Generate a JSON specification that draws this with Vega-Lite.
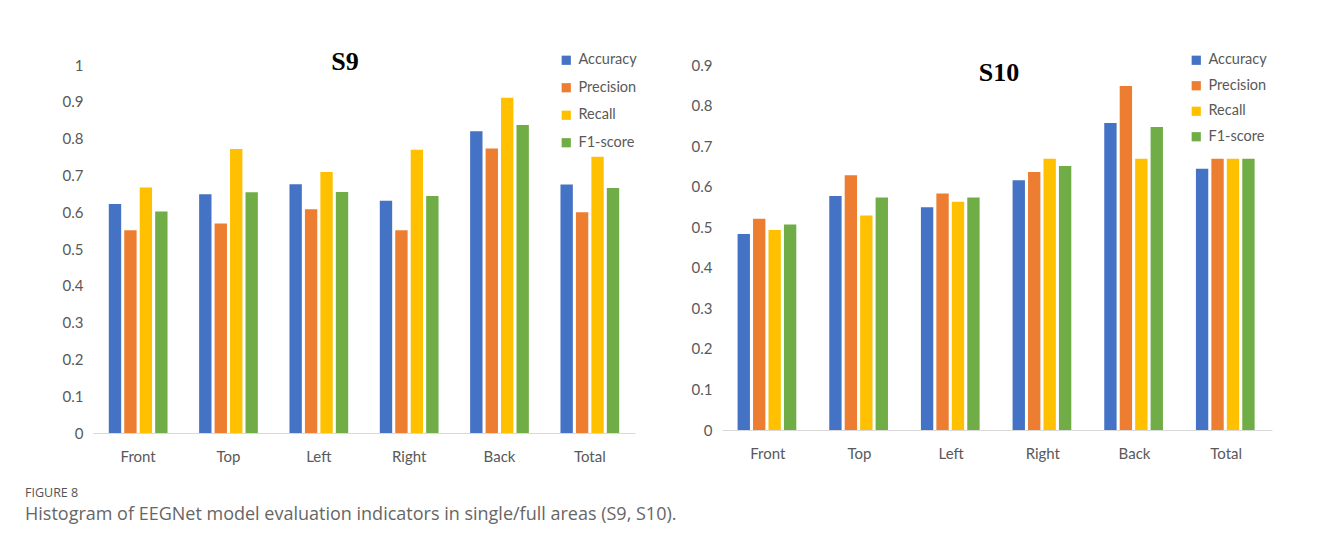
{
  "$schema": "https://vega.github.io/schema/vega-lite/v6.json",
  "background": "white",
  "padding": {"left": 25, "top": 49, "right": 10, "bottom": 10},
  "datasets": {
    "s9": [
      {"area": "Front", "metric": "Accuracy", "value": 0.622},
      {"area": "Front", "metric": "Precision", "value": 0.551},
      {"area": "Front", "metric": "Recall", "value": 0.667},
      {"area": "Front", "metric": "F1-score", "value": 0.602},
      {"area": "Top", "metric": "Accuracy", "value": 0.649},
      {"area": "Top", "metric": "Precision", "value": 0.569},
      {"area": "Top", "metric": "Recall", "value": 0.772},
      {"area": "Top", "metric": "F1-score", "value": 0.654},
      {"area": "Left", "metric": "Accuracy", "value": 0.676},
      {"area": "Left", "metric": "Precision", "value": 0.608},
      {"area": "Left", "metric": "Recall", "value": 0.709},
      {"area": "Left", "metric": "F1-score", "value": 0.655},
      {"area": "Right", "metric": "Accuracy", "value": 0.631},
      {"area": "Right", "metric": "Precision", "value": 0.551},
      {"area": "Right", "metric": "Recall", "value": 0.770},
      {"area": "Right", "metric": "F1-score", "value": 0.644},
      {"area": "Back", "metric": "Accuracy", "value": 0.820},
      {"area": "Back", "metric": "Precision", "value": 0.773},
      {"area": "Back", "metric": "Recall", "value": 0.911},
      {"area": "Back", "metric": "F1-score", "value": 0.837},
      {"area": "Total", "metric": "Accuracy", "value": 0.675},
      {"area": "Total", "metric": "Precision", "value": 0.600},
      {"area": "Total", "metric": "Recall", "value": 0.751},
      {"area": "Total", "metric": "F1-score", "value": 0.666}
    ],
    "s10": [
      {"area": "Front", "metric": "Accuracy", "value": 0.483},
      {"area": "Front", "metric": "Precision", "value": 0.521},
      {"area": "Front", "metric": "Recall", "value": 0.493},
      {"area": "Front", "metric": "F1-score", "value": 0.507},
      {"area": "Top", "metric": "Accuracy", "value": 0.577},
      {"area": "Top", "metric": "Precision", "value": 0.628},
      {"area": "Top", "metric": "Recall", "value": 0.529},
      {"area": "Top", "metric": "F1-score", "value": 0.573},
      {"area": "Left", "metric": "Accuracy", "value": 0.549},
      {"area": "Left", "metric": "Precision", "value": 0.583},
      {"area": "Left", "metric": "Recall", "value": 0.563},
      {"area": "Left", "metric": "F1-score", "value": 0.573},
      {"area": "Right", "metric": "Accuracy", "value": 0.616},
      {"area": "Right", "metric": "Precision", "value": 0.636},
      {"area": "Right", "metric": "Recall", "value": 0.669},
      {"area": "Right", "metric": "F1-score", "value": 0.651},
      {"area": "Back", "metric": "Accuracy", "value": 0.757},
      {"area": "Back", "metric": "Precision", "value": 0.848},
      {"area": "Back", "metric": "Recall", "value": 0.669},
      {"area": "Back", "metric": "F1-score", "value": 0.747},
      {"area": "Total", "metric": "Accuracy", "value": 0.644},
      {"area": "Total", "metric": "Precision", "value": 0.669},
      {"area": "Total", "metric": "Recall", "value": 0.669},
      {"area": "Total", "metric": "F1-score", "value": 0.669}
    ]
  },
  "title": {
    "text": "FIGURE 8",
    "subtitle": "Histogram of EEGNet model evaluation indicators in single/full areas (S9, S10).",
    "orient": "bottom",
    "anchor": "start",
    "frame": "group",
    "dx": -68,
    "offset": 23,
    "font": "Open Sans",
    "fontSize": 12.5,
    "fontWeight": "normal",
    "color": "#555555",
    "subtitleFont": "Open Sans",
    "subtitleFontSize": 18,
    "subtitleColor": "#666666",
    "subtitlePadding": 6
  },
  "spacing": 54,
  "resolve": {"scale": {"color": "independent", "y": "independent"}},
  "hconcat": [
    {
      "width": 542,
      "height": 368,
      "data": {"name": "s9"},
      "title": {"text": "S9", "font": "Liberation Serif", "fontSize": 26, "fontWeight": "bold", "color": "#000000", "anchor": "middle", "dx": -19, "offset": -22},
      "mark": {"type": "bar"},
      "encoding": {
        "x": {"field": "area", "type": "nominal", "sort": ["Front", "Top", "Left", "Right", "Back", "Total"], "scale": {"paddingInner": 0.35, "paddingOuter": 0.175}, "axis": {"title": null}},
        "xOffset": {"field": "metric", "type": "nominal", "sort": ["Accuracy", "Precision", "Recall", "F1-score"], "scale": {"paddingInner": 0.2, "paddingOuter": 0}},
        "y": {"field": "value", "type": "quantitative", "scale": {"domain": [0, 1]}, "axis": {"title": null, "values": [0, 0.1, 0.2, 0.3, 0.4, 0.5, 0.6, 0.7, 0.8, 0.9, 1], "format": "~g"}},
        "color": {"field": "metric", "type": "nominal", "sort": ["Accuracy", "Precision", "Recall", "F1-score"], "scale": {"domain": ["Accuracy", "Precision", "Recall", "F1-score"], "range": ["#4472C4", "#ED7D31", "#FFC000", "#70AD47"]}, "legend": {"orient": "none", "legendX": 466, "legendY": -12, "title": null, "rowPadding": 12.5}}
      }
    },
    {
      "width": 550,
      "height": 365,
      "data": {"name": "s10"},
      "title": {"text": "S10", "font": "Liberation Serif", "fontSize": 26, "fontWeight": "bold", "color": "#000000", "anchor": "middle", "dx": 2, "offset": -33},
      "mark": {"type": "bar"},
      "encoding": {
        "x": {"field": "area", "type": "nominal", "sort": ["Front", "Top", "Left", "Right", "Back", "Total"], "scale": {"paddingInner": 0.34, "paddingOuter": 0.17}, "axis": {"title": null}},
        "xOffset": {"field": "metric", "type": "nominal", "sort": ["Accuracy", "Precision", "Recall", "F1-score"], "scale": {"paddingInner": 0.2, "paddingOuter": 0}},
        "y": {"field": "value", "type": "quantitative", "scale": {"domain": [0, 0.9]}, "axis": {"title": null, "values": [0, 0.1, 0.2, 0.3, 0.4, 0.5, 0.6, 0.7, 0.8, 0.9], "format": "~g"}},
        "color": {"field": "metric", "type": "nominal", "sort": ["Accuracy", "Precision", "Recall", "F1-score"], "scale": {"domain": ["Accuracy", "Precision", "Recall", "F1-score"], "range": ["#4472C4", "#ED7D31", "#FFC000", "#70AD47"]}, "legend": {"orient": "none", "legendX": 467, "legendY": -12, "title": null, "rowPadding": 10.5}}
      }
    }
  ],
  "config": {
    "view": {"stroke": null},
    "axis": {"labelFont": "Lato", "labelFontSize": 15, "labelColor": "#595959", "ticks": false, "grid": false},
    "axisX": {"domain": true, "domainColor": "#D9D9D9", "domainWidth": 1, "labelAngle": 0, "labelPadding": 16},
    "axisY": {"domain": false, "labelPadding": 10},
    "legend": {"labelFont": "Lato", "labelFontSize": 14.5, "labelColor": "#595959", "symbolType": "square", "symbolSize": 85, "symbolStrokeWidth": 0, "labelOffset": 5}
  }
}
